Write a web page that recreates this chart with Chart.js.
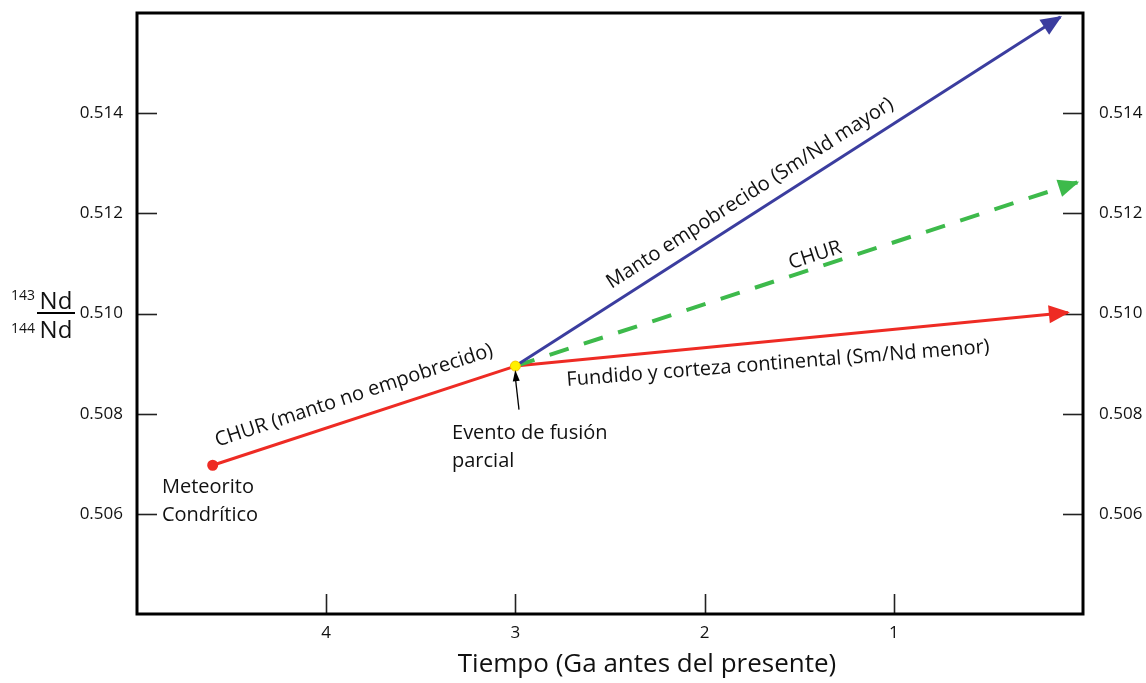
<!DOCTYPE html>
<html lang="es">
<head>
<meta charset="utf-8">
<title>Evolución isotópica Nd</title>
<script src="https://cdn.jsdelivr.net/npm/chart.js@4.4.1/dist/chart.umd.min.js"></script>
<style>
  html, body { margin: 0; padding: 0; background: #ffffff; }
  #wrap { width: 1146px; height: 683px; }
</style>
</head>
<body>
<div id="wrap"><canvas id="ndChart" width="1146" height="683"></canvas></div>
<script>
// --- datos (Ga antes del presente, razón 143Nd/144Nd) ---
const xTicks = [4, 3, 2, 1];
const yTicks = [0.506, 0.508, 0.510, 0.512, 0.514];

const churTimes = [4.6, 3.0];           // CHUR (manto no empobrecido)
const churValues = [0.50697, 0.50895];

const mantoTimes = [3.0, 0.12];         // Manto empobrecido
const mantoValues = [0.50895, 0.51592];

const churFutureTimes = [3.0, 0.03];    // CHUR despues del evento
const churFutureValues = [0.50895, 0.51262];

const fundidoTimes = [3.0, 0.08];       // Fundido y corteza continental
const fundidoValues = [0.50895, 0.51002];

const meteoritoPoint = [4.6, 0.50697];
const fusionPoint = [3.0, 0.50895];

const FONT = "'Open Sans', sans-serif";
const RED = '#ee2b24';
const BLUE = '#3b3d9f';
const GREEN = '#3dba4b';

const toXY = (xs, ys) => xs.map((x, i) => ({ x: x, y: ys[i] }));

// etiquetas sobre las lineas (x, y en unidades de datos)
const notes = [
    { text: 'CHUR (manto no empobrecido)', x: 3.853, y: 0.50836, angle: -18.3 },
    { text: 'Manto empobrecido (Sm/Nd mayor)', x: 1.760, y: 0.51240, angle: -32.7 },
    { text: 'CHUR', x: 1.416, y: 0.51116, angle: -18.1 },
    { text: 'Fundido y corteza continental (Sm/Nd menor)', x: 1.612, y: 0.50900, angle: -4.5 }
];
const plainNotes = [
    { lines: ['Meteorito', 'Condrítico'], x: 4.868, y: 0.50652 },
    { lines: ['Evento de fusión', 'parcial'], x: 3.335, y: 0.50760 }
];

const drawHead = (ctx, x0, y0, x1, y1, len, half, color) => {
    const a = Math.atan2(y1 - y0, x1 - x0);
    ctx.save();
    ctx.fillStyle = color;
    ctx.translate(x1, y1);
    ctx.rotate(a);
    ctx.beginPath();
    ctx.moveTo(2, 0);
    ctx.lineTo(-len, -half);
    ctx.lineTo(-len, half);
    ctx.closePath();
    ctx.fill();
    ctx.restore();
};

const overlayPlugin = {
    id: 'overlay',
    beforeDatasetsDraw(chart) {
        const { ctx, chartArea: a, scales } = chart;
        ctx.save();
        ctx.strokeStyle = '#222';
        ctx.lineWidth = 1.6;
        // marcas internas
        scales.y.ticks.forEach(t => {
            const py = Math.round(scales.y.getPixelForValue(t.value)) + 0.5;
            ctx.beginPath(); ctx.moveTo(a.left, py); ctx.lineTo(a.left + 20, py); ctx.stroke();
            ctx.beginPath(); ctx.moveTo(a.right - 20, py); ctx.lineTo(a.right, py); ctx.stroke();
        });
        scales.x.ticks.forEach(t => {
            const px = Math.round(scales.x.getPixelForValue(t.value)) + 0.5;
            ctx.beginPath(); ctx.moveTo(px, a.bottom); ctx.lineTo(px, a.bottom - 20); ctx.stroke();
        });
        ctx.restore();
    },
    afterDatasetsDraw(chart) {
        const { ctx, scales } = chart;
        chart.data.datasets.forEach((ds, i) => {
            if (!ds.arrow) return;
            const pts = chart.getDatasetMeta(i).data;
            const p0 = pts[pts.length - 2], p1 = pts[pts.length - 1];
            drawHead(ctx, p0.x, p0.y, p1.x, p1.y, 19, 9, ds.borderColor);
        });

        // marco
        const a = chart.chartArea;
        ctx.save();
        ctx.strokeStyle = '#000';
        ctx.lineWidth = 3;
        ctx.strokeRect(a.left, a.top, a.right - a.left, a.bottom - a.top);
        ctx.restore();

        // textos inclinados
        ctx.save();
        ctx.fillStyle = '#111';
        ctx.font = `20px ${FONT}`;
        ctx.textAlign = 'center';
        ctx.textBaseline = 'middle';
        notes.forEach(n => {
            ctx.save();
            ctx.translate(scales.x.getPixelForValue(n.x), scales.y.getPixelForValue(n.y));
            ctx.rotate(n.angle * Math.PI / 180);
            ctx.fillText(n.text, 0, 0);
            ctx.restore();
        });
        ctx.textAlign = 'left';
        plainNotes.forEach(n => {
            const px = scales.x.getPixelForValue(n.x);
            const py = scales.y.getPixelForValue(n.y);
            n.lines.forEach((l, k) => ctx.fillText(l, px, py + k * 28));
        });

        // flecha del evento de fusion
        const sx = scales.x.getPixelForValue(2.981), sy = scales.y.getPixelForValue(0.50808);
        const ex = scales.x.getPixelForValue(fusionPoint[0]), ey = scales.y.getPixelForValue(fusionPoint[1]) + 6;
        ctx.strokeStyle = '#000';
        ctx.lineWidth = 1.3;
        ctx.beginPath(); ctx.moveTo(sx, sy); ctx.lineTo(ex, ey + 6); ctx.stroke();
        drawHead(ctx, sx, sy, ex, ey, 9, 3.5, '#000');

        // titulo eje x
        ctx.textAlign = 'center';
        ctx.font = `26px ${FONT}`;
        ctx.fillText('Tiempo (Ga antes del presente)', 647, 665);

        // titulo eje y (fraccion)
        ctx.textBaseline = 'alphabetic';
        ctx.font = `24px ${FONT}`;
        ctx.fillText('Nd', 56, 309);
        ctx.fillText('Nd', 56, 338);
        ctx.font = `14px ${FONT}`;
        ctx.textAlign = 'right';
        ctx.fillText('143', 35, 300);
        ctx.fillText('144', 35, 333);
        ctx.beginPath();
        ctx.lineWidth = 2;
        ctx.moveTo(37, 313); ctx.lineTo(75, 313); ctx.stroke();
        ctx.restore();
    }
};

const lineDs = (label, data, color, extra = {}) => Object.assign({
    label: label,
    data: data,
    borderColor: color,
    backgroundColor: color,
    borderWidth: 3,
    pointRadius: 0,
    fill: false,
    tension: 0
}, extra);

const fitY = w => s => { s.width = w; s.paddingTop = 0; s.paddingBottom = 0; };

new Chart(document.getElementById('ndChart'), {
    type: 'line',
    data: {
        datasets: [
            lineDs('CHUR (manto no empobrecido)', toXY(churTimes, churValues), RED),
            lineDs('Manto empobrecido', toXY(mantoTimes, mantoValues), BLUE, { arrow: true }),
            lineDs('CHUR', toXY(churFutureTimes, churFutureValues), GREEN, { arrow: true, borderWidth: 4, borderDash: [20, 16] }),
            lineDs('Fundido y corteza continental', toXY(fundidoTimes, fundidoValues), RED, { arrow: true }),
            lineDs('Meteorito', [{ x: meteoritoPoint[0], y: meteoritoPoint[1] }], RED, { pointRadius: 4, showLine: false, order: -1 }),
            lineDs('Evento de fusión', [{ x: fusionPoint[0], y: fusionPoint[1] }], '#fff000',
                { pointRadius: 5, pointBorderColor: '#f5c400', pointBorderWidth: 1, showLine: false, order: -2 })
        ]
    },
    options: {
        responsive: false,
        animation: false,
        layout: { padding: { top: 13, left: 0, right: 0, bottom: 0 } },
        plugins: { legend: { display: false }, tooltip: { enabled: false } },
        scales: {
            x: {
                type: 'linear', reverse: true, min: 0, max: 5,
                afterBuildTicks: s => { s.ticks = xTicks.map(v => ({ value: v })); },
                afterFit: s => { s.height = 69; s.paddingLeft = 0; s.paddingRight = 0; },
                grid: { display: false, drawTicks: false },
                border: { display: false },
                ticks: { autoSkip: false, padding: 9, color: '#111', font: { family: FONT, size: 17 } }
            },
            y: {
                type: 'linear', position: 'left', min: 0.504, max: 0.516,
                afterBuildTicks: s => { s.ticks = yTicks.map(v => ({ value: v })); },
                afterFit: fitY(137),
                grid: { display: false, drawTicks: false },
                border: { display: false },
                ticks: { padding: 14, color: '#111', font: { family: FONT, size: 17 }, callback: v => v.toFixed(3) }
            },
            y2: {
                type: 'linear', position: 'right', min: 0.504, max: 0.516,
                afterBuildTicks: s => { s.ticks = yTicks.map(v => ({ value: v })); },
                afterFit: fitY(63),
                grid: { display: false, drawTicks: false },
                border: { display: false },
                ticks: { padding: 16, color: '#111', font: { family: FONT, size: 17 }, callback: v => v.toFixed(3) }
            }
        }
    },
    plugins: [overlayPlugin]
});
</script>
</body>
</html>
